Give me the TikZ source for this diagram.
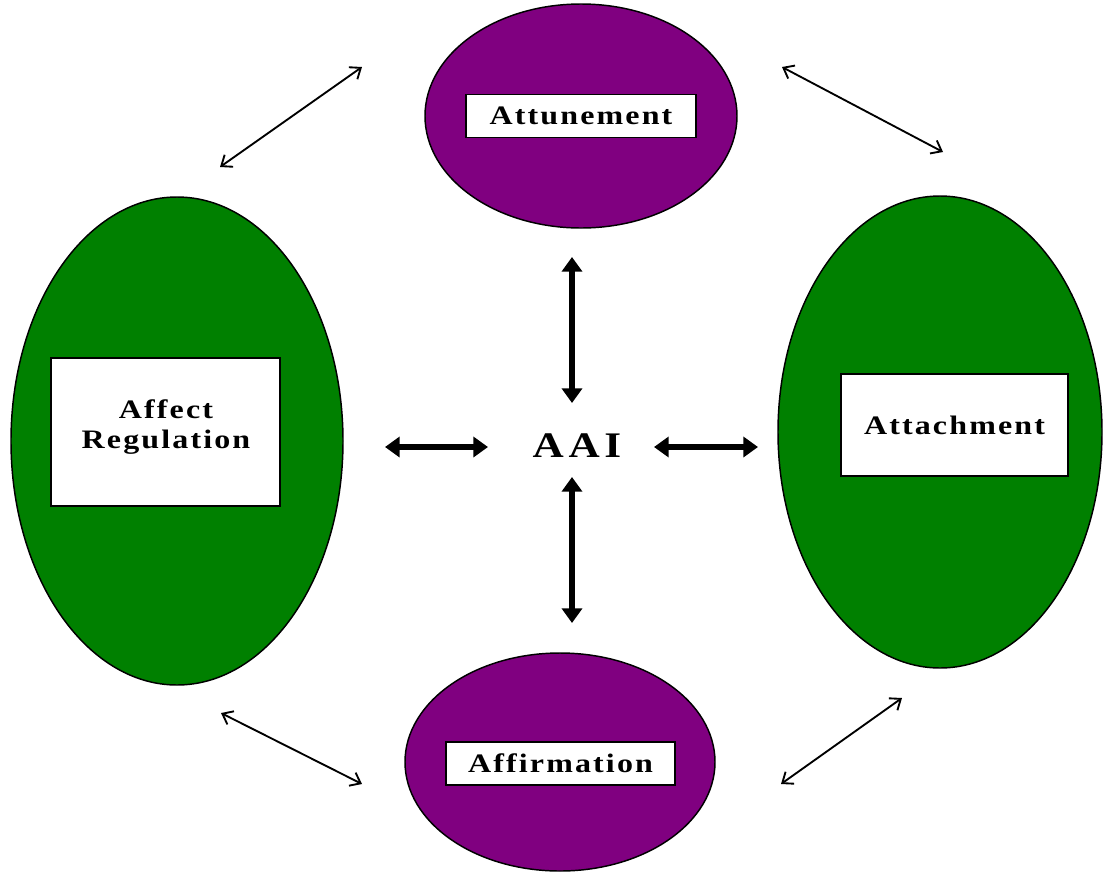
\documentclass[tikz,border=0pt]{standalone}
\usepackage{fontspec}
\setmainfont{Liberation Serif}
\newfontfamily\labelfont[FakeStretch=1.2, LetterSpace=8]{Liberation Serif}
\newfontfamily\hubfont[FakeStretch=1.2, LetterSpace=13]{Liberation Serif}
\usetikzlibrary{shapes.geometric,arrows.meta}
\definecolor{plum}{HTML}{800080}
\definecolor{leaf}{HTML}{008000}
\tikzset{
  oval/.style={ellipse, draw=black, line width=1.1pt, inner sep=0pt},
  purpleoval/.style={oval, fill=plum},
  greenoval/.style={oval, fill=leaf},
  labeltext/.style={inner sep=0pt, align=center,
    font=\labelfont\bfseries\fontsize{20}{22.5}\selectfont},
  tag/.style={rectangle, draw=black, line width=0.9pt, fill=white, inner sep=0pt, labeltext},
  hub/.style={font=\hubfont\bfseries\fontsize{27}{30}\selectfont, inner sep=0pt},
  thick link/.style={line width=4.5pt, {Triangle[length=11pt,width=15pt]}-{Triangle[length=11pt,width=15pt]}},
  thin link/.style={line width=1.4pt, {Straight Barb[length=7pt,width=11pt]}-{Straight Barb[length=7pt,width=11pt]}}
}
\begin{document}
\begin{tikzpicture}[x=0.75pt, y=-0.75pt]
  \useasboundingbox (0,0) rectangle (1103,875);

  % four outer ellipses
  \node[purpleoval, minimum width=234pt, minimum height=168pt] (top) at (581,116) {};
  \node[greenoval, minimum width=249pt, minimum height=366pt] (left) at (177,441) {};
  \node[greenoval, minimum width=243pt, minimum height=354pt] (right) at (940,432) {};
  \node[purpleoval, minimum width=232.5pt, minimum height=163.5pt] (bottom) at (560,762) {};

  % labelled boxes inside them
  \node[tag, minimum width=172.5pt, minimum height=32.25pt] (attune) at (top) {Attunement};
  \node[tag, minimum width=171.75pt, minimum height=111pt] (affect) at (165.5,432) {};
  \node[labeltext] (affecttext) at (166,427) {Affect\\Regulation};
  \node[tag, minimum width=170.25pt, minimum height=76.5pt] (attach) at (954.5,425) {Attachment};
  \node[tag, minimum width=171.75pt, minimum height=32.25pt] (affirm) at (560.5,763.5) {Affirmation};

  % centre
  \node[hub] (aai) at (577,446) {AAI};

  % arrow ends
  \coordinate (vt1) at (572,257);
  \coordinate (vt2) at (572,403);
  \coordinate (vb1) at (572,477);
  \coordinate (vb2) at (572,623);
  \coordinate (hl1) at (385,447);
  \coordinate (hl2) at (488,447);
  \coordinate (hr1) at (654,447);
  \coordinate (hr2) at (758,447);

  \coordinate (tl1) at (220,167);
  \coordinate (tl2) at (362,67);
  \coordinate (tr1) at (782,67);
  \coordinate (tr2) at (943,152);
  \coordinate (bl1) at (221,713);
  \coordinate (bl2) at (362,784);
  \coordinate (br1) at (781,784);
  \coordinate (br2) at (902,698);

  % bold arrows round the centre
  \draw[thick link] (vt1) -- (vt2);
  \draw[thick link] (vb1) -- (vb2);
  \draw[thick link] (hl1) -- (hl2);
  \draw[thick link] (hr1) -- (hr2);

  % thin arrows between neighbouring ellipses
  \draw[thin link] (tl1) -- (tl2);
  \draw[thin link] (tr1) -- (tr2);
  \draw[thin link] (bl1) -- (bl2);
  \draw[thin link] (br1) -- (br2);
\end{tikzpicture}
\end{document}
